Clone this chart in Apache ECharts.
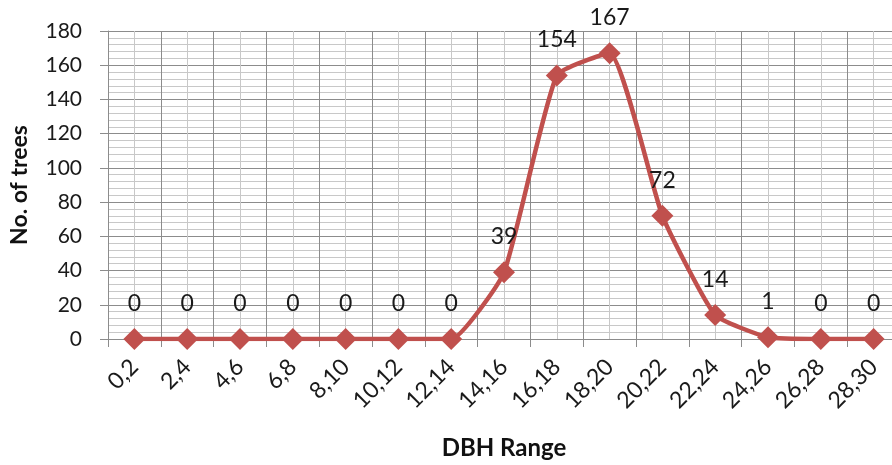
<!DOCTYPE html>
<html>
<head>
<meta charset="utf-8">
<script src="https://cdn.jsdelivr.net/npm/echarts@6/dist/echarts.min.js"></script>
<style>
  html, body { margin: 0; padding: 0; background: #ffffff; }
  #chart { width: 892px; height: 465px; }
</style>
</head>
<body>
<div id="chart"></div>
<script>
// DBH class ranges (cm) and tree counts per class
const dbhRanges = ['0,2', '2,4', '4,6', '6,8', '8,10', '10,12', '12,14', '14,16',
  '16,18', '18,20', '20,22', '22,24', '24,26', '26,28', '28,30'];
const treeCounts = [0, 0, 0, 0, 0, 0, 0, 39, 154, 167, 72, 14, 1, 0, 0];
const yTicks = { min: 0, max: 180, step: 20 };

const FONT = 'Lato, "Liberation Sans", sans-serif';
const MAJOR = '#8c8c8c';
const MINOR = '#c8c8c8';

const chart = echarts.init(document.getElementById('chart'), null, { renderer: 'canvas' });

chart.setOption({
  animation: false,
  backgroundColor: '#ffffff',
  textStyle: { fontFamily: FONT },
  grid: { left: 108, top: 31, right: -8, bottom: 126, containLabel: false, outerBoundsMode: 'none' },
  xAxis: [
    {
      type: 'category',
      data: dbhRanges,
      boundaryGap: true,
      name: 'DBH Range',
      nameLocation: 'middle',
      nameGap: 97,
      nameTextStyle: { fontFamily: FONT, fontSize: 24, fontWeight: 'bold', color: '#111111' },
      axisLine: { show: true, lineStyle: { color: MAJOR, width: 1 } },
      axisTick: { show: true, alignWithLabel: false, length: 8, lineStyle: { color: MAJOR } },
      axisLabel: {
        rotate: 45,
        margin: 24,
        fontFamily: FONT,
        fontSize: 23,
        color: '#1a1a1a',
        interval: 0
      },
      splitLine: { show: true, interval: 0, lineStyle: { color: MAJOR, width: 1 } }
    },
    {
      // helper axis drawing the light lines through each category centre
      type: 'value',
      position: 'bottom',
      min: 0,
      max: dbhRanges.length,
      interval: 1,
      axisLine: { show: false },
      axisTick: { show: false },
      axisLabel: { show: false },
      splitLine: { show: false },
      minorTick: { show: false, splitNumber: 2 },
      minorSplitLine: { show: true, lineStyle: { color: MINOR, width: 1 } }
    }
  ],
  yAxis: {
    type: 'value',
    min: yTicks.min,
    max: yTicks.max,
    interval: yTicks.step,
    name: 'No. of trees',
    nameLocation: 'middle',
    nameGap: 77,
    nameRotate: 90,
    nameTextStyle: { fontFamily: FONT, fontSize: 23, fontWeight: 'bold', color: '#111111' },
    axisLine: { show: true, lineStyle: { color: MAJOR, width: 1 } },
    axisTick: { show: true, length: 8, lineStyle: { color: MAJOR } },
    axisLabel: { margin: 26, fontFamily: FONT, fontSize: 21, color: '#1a1a1a' },
    splitLine: { show: true, lineStyle: { color: MAJOR, width: 1 } },
    minorTick: { show: false, splitNumber: 5 },
    minorSplitLine: { show: true, lineStyle: { color: MINOR, width: 1 } }
  },
  series: [
    {
      type: 'line',
      xAxisIndex: 0,
      data: treeCounts,
      smooth: 0.15,
      symbol: 'diamond',
      symbolSize: 22,
      lineStyle: { color: '#c0504d', width: 4.5 },
      itemStyle: { color: '#c0504d' },
      label: {
        show: true,
        position: 'top',
        distance: 13,
        fontFamily: FONT,
        fontSize: 23,
        color: '#1a1a1a'
      },
      z: 5
    }
  ]
});
</script>
</body>
</html>
